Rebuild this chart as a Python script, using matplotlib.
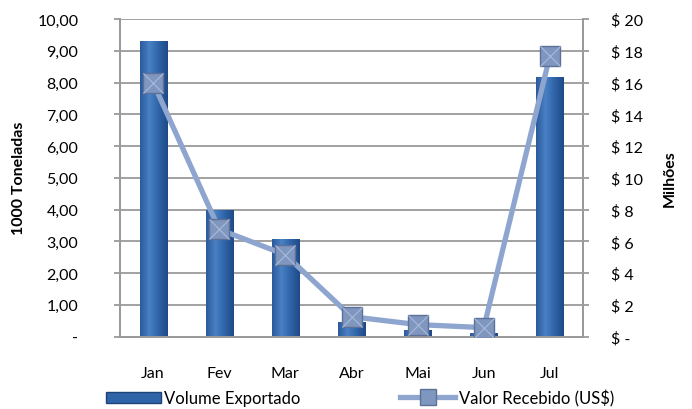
import numpy as np
import matplotlib
matplotlib.use("Agg")
import matplotlib.pyplot as plt
from matplotlib.colors import LinearSegmentedColormap
from matplotlib.lines import Line2D
from matplotlib.patches import Patch

meses = ["Jan", "Fev", "Mar", "Abr", "Mai", "Jun", "Jul"]
volume = [9.30, 3.98, 3.06, 0.47, 0.19, 0.12, 8.17]      # 1000 toneladas
valor = [16.0, 6.75, 5.15, 1.25, 0.75, 0.56, 17.7]       # milhoes US$

plt.rcParams['font.family'] = ['Lato', 'DejaVu Sans']

fig = plt.figure(figsize=(6.92, 4.10), dpi=100)
ax = fig.add_axes([0.1734, 0.1768, 0.6691, 0.7744])
ax2 = ax.twinx()

x = np.arange(len(meses))
largura = 0.41

# grid
ax.set_ylim(0, 10)
ax.set_xlim(-0.5, len(meses) - 0.5)
ax.set_yticks(np.arange(0, 11, 1))
ax.yaxis.grid(True, color="#9a9a9a", linewidth=1.3)
ax.set_axisbelow(True)

# bars with a horizontal gradient
cmap = LinearSegmentedColormap.from_list("bar", ["#2a5a9c", "#4a80c4", "#2f64a8", "#1f4a86"])
grad = np.linspace(0, 1, 64).reshape(1, -1)
barras = ax.bar(x, volume, width=largura, color="#2f64a8", edgecolor="#1d4378",
                linewidth=0.6, zorder=2)
for b in barras:
    x0, y0 = b.get_x(), b.get_y()
    w, h = b.get_width(), b.get_height()
    im = ax.imshow(grad, cmap=cmap, aspect="auto", extent=[x0, x0 + w, y0, y0 + h],
                   zorder=2.1)
    im.set_clip_path(b)
ax.set_xlim(-0.5, len(meses) - 0.5)
ax.set_ylim(0, 10)

# line on secondary axis
ax2.set_ylim(0, 20)
ax2.set_yticks(np.arange(0, 21, 2))
ax2.plot(x, valor, color="#8ea6cf", linewidth=3.8, zorder=3,
         marker="s", markersize=15, markerfacecolor="#7f96bf",
         markeredgecolor="#5d7198", markeredgewidth=1.0)
ax2.plot(x, valor, linestyle="none", marker="x", markersize=14,
         markeredgecolor="#a9bbdc", markeredgewidth=0.8, zorder=4)

# tick labels
ax.set_xticks(x)
ax.set_xticklabels(meses)
ax.set_yticklabels(["-"] + [f"{v},00" for v in range(1, 11)])
ax2.set_yticklabels(["$ -"] + [f"$ {v}" for v in range(2, 21, 2)])

ax.tick_params(axis="x", length=0, pad=21, labelsize=11.5)
ax.tick_params(axis="y", length=4, color="#9a9a9a", width=1.3, pad=26, labelsize=11.5)
ax2.tick_params(axis="y", length=4, color="#9a9a9a", width=1.3, pad=16, labelsize=11.5)
for lab in ax.get_yticklabels():
    lab.set_horizontalalignment("right")
for lab in ax2.get_yticklabels():
    lab.set_horizontalalignment("left")
ax.tick_params(axis="y", pad=26)
ax2.tick_params(axis="y", pad=16)

for a in (ax, ax2):
    a.spines["top"].set_visible(False)
    for s in ("left", "right", "bottom"):
        a.spines[s].set_color("#9a9a9a")
        a.spines[s].set_linewidth(1.3)

ax.set_ylabel("1000 Toneladas", fontsize=11.5, fontweight="bold", labelpad=8)
ax2.set_ylabel("Milhões", fontsize=11.5, fontweight="bold", rotation=90, labelpad=14)

# legend
handles = [Patch(facecolor="#2f64a8", edgecolor="#1d4378"),
           Line2D([0], [0], color="#8ea6cf", linewidth=3.8, marker="s", markersize=12,
                  markerfacecolor="#7f96bf", markeredgecolor="#5d7198")]
fig.legend(handles, ["Volume Exportado", "Valor Recebido (US$)"], loc="lower center",
           bbox_to_anchor=(0.52, -0.03), ncol=2, frameon=False, fontsize=12,
           handlelength=3.3, handletextpad=0.2, columnspacing=6.0)

fig.savefig("out.png", dpi=100)
